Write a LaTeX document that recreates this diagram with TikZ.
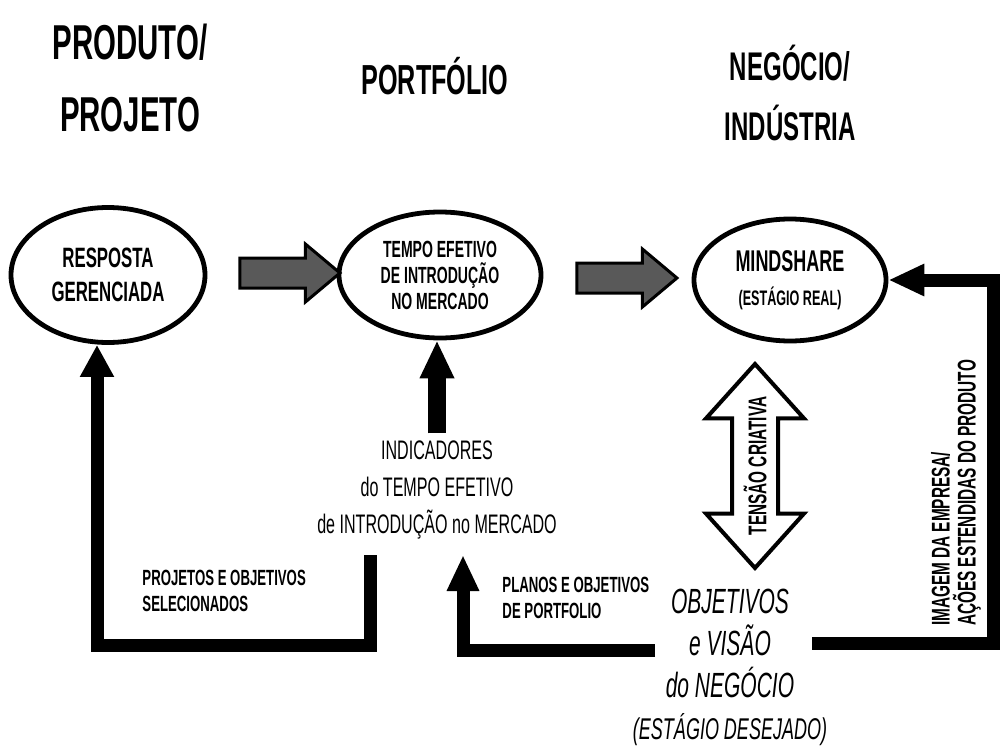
\documentclass[tikz,border=0pt]{standalone}
\usepackage{fontspec}
\setmainfont{Liberation Sans}[FakeStretch=0.6]
\usetikzlibrary{shapes.geometric,shapes.arrows,arrows.meta}

\begin{document}
\begin{tikzpicture}[x=0.5pt, y=-0.5pt, thick, >={Triangle[length=18pt,width=15pt]},
    bubble/.style={ellipse, draw, line width=2.4pt, inner sep=1pt, align=center},
    flow/.style={single arrow, draw, line width=1.5pt, fill=black!65, inner xsep=0pt, inner ysep=6.75pt,
        minimum height=50pt, single arrow head extend=7pt, single arrow tip angle=80},
    tensarrow/.style={double arrow, draw, line width=2pt, fill=white, rotate=90, inner xsep=0pt, inner ysep=10.5pt,
        minimum height=102pt, double arrow head extend=13pt, double arrow tip angle=84},
    fat/.style={line width=6.5pt},
    note/.style={align=left, font=\bfseries\fontsize{11}{13}\selectfont}]
    \useasboundingbox (0,0) rectangle (1003,755);
    % Levels
    \node[align=center, font=\bfseries\fontsize{24.5}{36}\selectfont] (prod) at (130,78) {PRODUTO/\\PROJETO};
    \node[font=\bfseries\fontsize{21}{22}\selectfont] (port) at (435,76) {PORTFÓLIO};
    \node[align=center, font=\bfseries\fontsize{20}{30}\selectfont] (neg) at (790,93) {NEGÓCIO/\\INDÚSTRIA};
    % Stages
    \node[bubble, minimum width=97pt, minimum height=67.5pt, font=\bfseries\fontsize{14}{17}\selectfont] (resp) at (108,275) {RESPOSTA\\GERENCIADA};
    \node[bubble, minimum width=101pt, minimum height=63pt, font=\bfseries\fontsize{11.7}{13}\selectfont] (tempo) at (440,275) {TEMPO EFETIVO\\DE INTRODUÇÃO\\NO MERCADO};
    \node[bubble, minimum width=96pt, minimum height=61pt, font=\bfseries\fontsize{15}{17}\selectfont] (mind) at (790,280) {MINDSHARE\\{\fontsize{10.5}{11}\selectfont(ESTÁGIO REAL)}};
    \node[flow] (f1) at (281,273) {};
    \node[flow] (f2) at (618,278) {};
    % Creative tension
    \node[tensarrow] (tens) at (755,466) {};
    \node[rotate=90, font=\bfseries\fontsize{12.8}{13}\selectfont] (tenslbl) at (tens) {TENSÃO CRIATIVA};
    % Indicators
    \node[align=center, font=\fontsize{13.4}{18.5}\selectfont] (ind) at (437,490) {INDICADORES\\do TEMPO EFETIVO\\de INTRODUÇÃO no MERCADO};
    \draw[line width=9pt, -{Triangle[length=19pt,width=16pt]}] (ind.north) -- (ind.north |- tempo.south);
    % Feedback lines
    \node[note, anchor=west] (sel) at (135,591) {PROJETOS E OBJETIVOS\\ SELECIONADOS};
    \coordinate (selA) at (370,555);
    \coordinate (selB) at (97,645);
    \draw[fat, -{Triangle[length=16pt,width=16pt]}] (selA) |- (selB) -- (selB |- resp.south);
    \node[note, anchor=west] (plan) at (495,598) {PLANOS E OBJETIVOS\\DE PORTFOLIO};
    \coordinate (planA) at (655,650);
    \coordinate (planB) at (463,555);
    \draw[fat, ->] (planA) -| (planB);
    \node[align=center, font=\itshape\fontsize{17.5}{21}\selectfont] (obj) at (730,667) {OBJETIVOS\\e VISÃO\\do NEGÓCIO\\{\fontsize{15}{21}\selectfont(ESTÁGIO DESEJADO)}};
    \node[note, rotate=90, font=\bfseries\fontsize{12.8}{13}\selectfont] (img) at (956,493) {IMAGEM DA EMPRESA/\\AÇÕES ESTENDIDAS DO PRODUTO};
    \coordinate (imgA) at (812,643);
    \coordinate (imgB) at (993,643);
    \draw[fat, ->] (imgA) -- (imgB) |- (mind.east);
\end{tikzpicture}
\end{document}
